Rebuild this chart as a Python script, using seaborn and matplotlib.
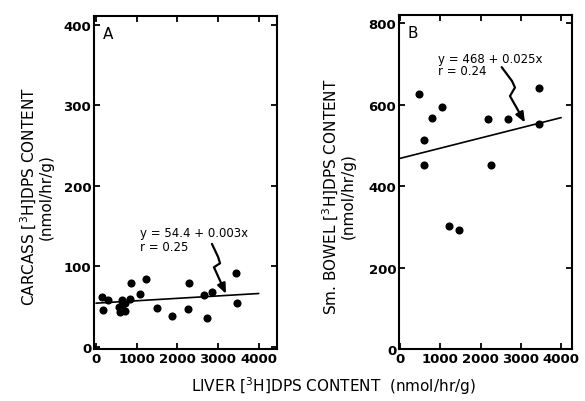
import matplotlib
matplotlib.use("Agg")
import matplotlib.pyplot as plt
import seaborn as sns
from matplotlib.path import Path
from matplotlib.patches import FancyArrowPatch

# Panel A: liver vs carcass [3H]DPS content (nmol/hr/g)
liver_a = [150, 180, 300, 560, 600, 640, 650, 700, 720, 830, 870, 1090,
           1230, 1500, 1870, 2250, 2280, 2660, 2730, 2860, 3450, 3460]
carcass = [62, 46, 58, 50, 44, 58, 52, 45, 55, 60, 79, 66,
           84, 49, 39, 47, 79, 65, 36, 68, 92, 54]

# Panel B: liver vs small bowel
liver_b = [480, 600, 600, 790, 1050, 1210, 1460, 2190, 2270, 2670, 3450, 3460]
bowel = [627, 512, 452, 568, 594, 303, 293, 564, 452, 564, 640, 552]

# regression lines as printed on the figure
fit_a = (54.4, 0.003)
fit_b = (468, 0.025)
line_x = [0, 4000]

sns.set_style("ticks")
plt.rcParams['font.family'] = ['DejaVu Sans']
plt.rcParams['text.color'] = 'black'
plt.rcParams['axes.labelcolor'] = 'black'
plt.rcParams['xtick.color'] = 'black'
plt.rcParams['ytick.color'] = 'black'

fig = plt.figure(figsize=(5.85, 4.02), dpi=100)
ax1 = fig.add_axes([94 / 585, 1 - 350 / 402, 183 / 585, 333 / 402])
ax2 = fig.add_axes([399 / 585, 1 - 350 / 402, 173 / 585, 334 / 402])


def draw_panel(ax, x, y, fit, ylim, yticks, xlim):
    sns.scatterplot(x=x, y=y, ax=ax, color='black', s=34, linewidth=0)
    sns.lineplot(x=line_x, y=[fit[0] + fit[1] * v for v in line_x], ax=ax,
                 color='black', lw=1.2)
    ax.set_xlim(*xlim)
    ax.set_ylim(*ylim)
    ax.set_xticks([0, 1000, 2000, 3000, 4000])
    ax.set_yticks(yticks)
    ax.tick_params(direction='in', length=4, width=1.3, top=True, right=True,
                   labelsize=9.5, pad=2)
    for lab in ax.get_xticklabels() + ax.get_yticklabels():
        lab.set_fontweight('bold')
    for sp in ax.spines.values():
        sp.set_linewidth(1.5)
        sp.set_color('black')


def squiggle(ax, pts):
    codes = [Path.MOVETO] + [Path.LINETO] * (len(pts) - 1)
    arr = FancyArrowPatch(path=Path(pts, codes),
                          arrowstyle='-|>,head_length=6,head_width=2.5',
                          color='black', lw=1.6, mutation_scale=1)
    ax.add_patch(arr)


draw_panel(ax1, liver_a, carcass, fit_a, (-2.5, 411),
           [0, 100, 200, 300, 400], (-50, 4450))
draw_panel(ax2, liver_b, bowel, fit_b, (0, 820),
           [0, 200, 400, 600, 800], (-25, 4270))

ax1.text(0.05, 0.97, 'A', transform=ax1.transAxes, ha='left', va='top',
         fontsize=11)
ax2.text(0.05, 0.97, 'B', transform=ax2.transAxes, ha='left', va='top',
         fontsize=11)

ax1.text(1070, 138, 'y = 54.4 + 0.003x', fontsize=8.5, ha='left', va='baseline')
ax1.text(1070, 120, 'r = 0.25', fontsize=8.5, ha='left', va='baseline')
squiggle(ax1, [(2850, 128), (3000, 112), (3050, 104), (2900, 99),
               (3195, 66)])

ax2.text(943, 704, 'y = 468 + 0.025x', fontsize=8.5, ha='left', va='baseline')
ax2.text(943, 675, 'r = 0.24', fontsize=8.5, ha='left', va='baseline')
squiggle(ax2, [(2524, 692), (2780, 658), (2854, 642), (2730, 621),
               (3102, 556)])

ax1.set_ylabel('CARCASS [$^{3}$H]DPS CONTENT\n(nmol/hr/g)', fontsize=11,
               linespacing=1.0)
ax1.yaxis.set_label_coords(-0.22, 0.46)
ax2.set_ylabel('Sm. BOWEL [$^{3}$H]DPS CONTENT\n(nmol/hr/g)', fontsize=11,
               linespacing=1.0)
ax2.yaxis.set_label_coords(-0.25, 0.46)
ax1.set_xlabel('')
ax2.set_xlabel('')

fig.text(333 / 585, 1 - 386 / 402, 'LIVER [$^{3}$H]DPS CONTENT  (nmol/hr/g)',
         ha='center', va='center', fontsize=11)

fig.savefig('out.png', dpi=100)
